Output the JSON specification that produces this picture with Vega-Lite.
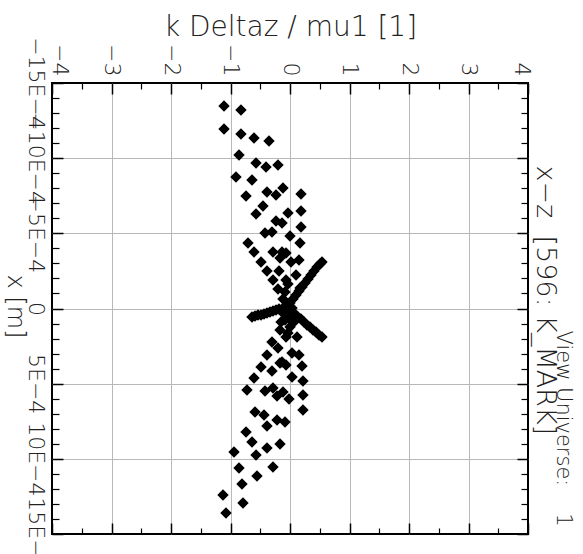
{
  "$schema": "https://vega.github.io/schema/vega-lite/v6.json",
  "width": 476,
  "height": 451,
  "autosize": {"type": "none"},
  "padding": {"left": 52, "top": 83, "right": 55, "bottom": 20},
  "background": "white",
  "config": {
    "view": {"stroke": "black", "strokeWidth": 2},
    "axis": {"labelFont": "DejaVu Sans", "titleFont": "DejaVu Sans", "labelColor": "#222", "titleColor": "#222", "labelFontWeight": 200, "titleFontWeight": 200}
  },
  "data": {"values": [
    {"kdz": -1.109, "x": -0.001347}, {"kdz": -0.824, "x": -0.001320}, {"kdz": -1.109, "x": -0.001194}, {"kdz": -0.824, "x": -0.001161},
    {"kdz": -0.605, "x": -0.001134}, {"kdz": -0.353, "x": -0.001114}, {"kdz": -0.857, "x": -0.001021}, {"kdz": -0.571, "x": -0.000968},
    {"kdz": -0.403, "x": -0.000941}, {"kdz": -0.202, "x": -0.000955}, {"kdz": -0.908, "x": -0.000875}, {"kdz": -0.639, "x": -0.000855},
    {"kdz": -0.387, "x": -0.000775}, {"kdz": -0.235, "x": -0.000755}, {"kdz": -0.118, "x": -0.000802}, {"kdz": 0.185, "x": -0.000762},
    {"kdz": -0.739, "x": -0.000748}, {"kdz": -0.454, "x": -0.000682}, {"kdz": -0.571, "x": -0.000629}, {"kdz": -0.034, "x": -0.000635},
    {"kdz": 0.185, "x": -0.000649}, {"kdz": -0.235, "x": -0.000582}, {"kdz": -0.134, "x": -0.000569}, {"kdz": 0.185, "x": -0.000542},
    {"kdz": -0.420, "x": -0.000502}, {"kdz": -0.303, "x": -0.000509}, {"kdz": 0.0, "x": -0.000482}, {"kdz": -0.706, "x": -0.000436},
    {"kdz": 0.168, "x": -0.000436}, {"kdz": -0.605, "x": -0.000376}, {"kdz": -0.286, "x": -0.000376}, {"kdz": -0.134, "x": -0.000376},
    {"kdz": -0.067, "x": -0.000369}, {"kdz": -0.168, "x": -0.000336}, {"kdz": -0.487, "x": -0.000309}, {"kdz": 0.017, "x": -0.000309},
    {"kdz": 0.151, "x": -0.000323}, {"kdz": -0.387, "x": -0.000249}, {"kdz": -0.185, "x": -0.000249}, {"kdz": 0.101, "x": -0.000223},
    {"kdz": -0.286, "x": -0.000190}, {"kdz": -0.067, "x": -0.000190}, {"kdz": -0.034, "x": -0.000163}, {"kdz": -0.202, "x": -0.000130},
    {"kdz": -0.084, "x": -0.000110}, {"kdz": 0.168, "x": -0.000136}, {"kdz": -0.118, "x": -0.000063}, {"kdz": -0.084, "x": 0.000076},
    {"kdz": 0.0, "x": 0.000123}, {"kdz": -0.168, "x": 0.000143}, {"kdz": -0.034, "x": 0.000163}, {"kdz": 0.118, "x": 0.000190},
    {"kdz": -0.067, "x": 0.000190}, {"kdz": -0.303, "x": 0.000223}, {"kdz": -0.202, "x": 0.000263}, {"kdz": 0.034, "x": 0.000296},
    {"kdz": -0.387, "x": 0.000309}, {"kdz": 0.151, "x": 0.000309}, {"kdz": -0.134, "x": 0.000356}, {"kdz": -0.487, "x": 0.000389},
    {"kdz": -0.303, "x": 0.000416}, {"kdz": -0.168, "x": 0.000363}, {"kdz": -0.067, "x": 0.000376}, {"kdz": 0.202, "x": 0.000382},
    {"kdz": -0.605, "x": 0.000462}, {"kdz": 0.034, "x": 0.000456}, {"kdz": 0.218, "x": 0.000482}, {"kdz": -0.723, "x": 0.000542},
    {"kdz": -0.420, "x": 0.000549}, {"kdz": -0.286, "x": 0.000529}, {"kdz": -0.218, "x": 0.000582}, {"kdz": -0.118, "x": 0.000555},
    {"kdz": -0.017, "x": 0.000602}, {"kdz": 0.218, "x": 0.000575}, {"kdz": 0.218, "x": 0.000675}, {"kdz": -0.588, "x": 0.000688},
    {"kdz": -0.437, "x": 0.000708}, {"kdz": -0.218, "x": 0.000742}, {"kdz": -0.084, "x": 0.000755}, {"kdz": -0.387, "x": 0.000782},
    {"kdz": -0.739, "x": 0.000822}, {"kdz": -0.639, "x": 0.000888}, {"kdz": -0.168, "x": 0.000901}, {"kdz": -0.387, "x": 0.000928},
    {"kdz": -0.571, "x": 0.000975}, {"kdz": -0.941, "x": 0.000955}, {"kdz": -0.857, "x": 0.001061}, {"kdz": -0.286, "x": 0.001054},
    {"kdz": -0.555, "x": 0.001114}, {"kdz": -0.807, "x": 0.001167}, {"kdz": -1.126, "x": 0.001241}, {"kdz": -0.790, "x": 0.001294},
    {"kdz": -1.076, "x": 0.001360},
    {"kdz": 0.0, "x": -0.000037}, {"kdz": 0.050, "x": -0.000063}, {"kdz": 0.101, "x": -0.000090}, {"kdz": 0.151, "x": -0.000116},
    {"kdz": 0.202, "x": -0.000143}, {"kdz": 0.252, "x": -0.000170}, {"kdz": 0.303, "x": -0.000196}, {"kdz": 0.353, "x": -0.000223},
    {"kdz": 0.403, "x": -0.000249}, {"kdz": 0.454, "x": -0.000276}, {"kdz": 0.504, "x": -0.000296}, {"kdz": 0.538, "x": -0.000309},
    {"kdz": -0.639, "x": 0.000057}, {"kdz": -0.588, "x": 0.000050}, {"kdz": -0.538, "x": 0.000043}, {"kdz": -0.487, "x": 0.000043},
    {"kdz": -0.437, "x": 0.000037}, {"kdz": -0.387, "x": 0.000030}, {"kdz": -0.336, "x": 0.000023}, {"kdz": -0.286, "x": 0.000017},
    {"kdz": -0.235, "x": 0.000010}, {"kdz": -0.185, "x": 0.000003}, {"kdz": -0.134, "x": 0.000003}, {"kdz": -0.084, "x": -0.000003},
    {"kdz": -0.034, "x": -0.000010},
    {"kdz": 0.034, "x": 0.000023}, {"kdz": 0.084, "x": 0.000037}, {"kdz": 0.134, "x": 0.000057}, {"kdz": 0.185, "x": 0.000070},
    {"kdz": 0.235, "x": 0.000090}, {"kdz": 0.286, "x": 0.000110}, {"kdz": 0.336, "x": 0.000123}, {"kdz": 0.387, "x": 0.000143},
    {"kdz": 0.437, "x": 0.000156}, {"kdz": 0.487, "x": 0.000176}, {"kdz": 0.538, "x": 0.000190},
    {"kdz": -0.050, "x": -0.000023}, {"kdz": 0.034, "x": -0.000003}, {"kdz": -0.101, "x": 0.000037}, {"kdz": -0.017, "x": 0.000063},
    {"kdz": 0.067, "x": 0.000090}, {"kdz": -0.151, "x": 0.000090}
  ]},
  "resolve": {"axis": {"x": "independent", "y": "independent"}},
  "layer": [
    {
      "mark": {"type": "point", "shape": "diamond", "filled": true, "color": "black", "size": 130, "opacity": 1},
      "encoding": {
        "x": {"field": "kdz", "type": "quantitative",
          "scale": {"domain": [-4, 4], "nice": false, "zero": false},
          "axis": {"orient": "top", "values": [-4, -3, -2, -1, 0, 1, 2, 3, 4], "ticks": false, "domain": false,
            "grid": true, "gridColor": "#b8b8b8", "gridWidth": 1,
            "gridOpacity": {"condition": {"test": "abs(datum.value) > 3.5", "value": 0}, "value": 1},
            "labelAngle": 90, "labelAlign": "right", "labelBaseline": "middle", "labelPadding": 7, "labelFontSize": 22,
            "labelOverlap": false, "labelFlush": false, "labelBound": false,
            "labelOffset": {"condition": [{"test": "datum.value == -4", "value": 7}, {"test": "datum.value == 4", "value": -7}], "value": 0},
            "labelExpr": "datum.value < 0 ? '\u2212' + abs(datum.value) : '' + datum.value",
            "title": "k Deltaz / mu1 [1]", "titleFontSize": 28, "titleX": 238, "titleY": -48, "titleAlign": "center", "titleBaseline": "alphabetic", "titleAngle": 0}},
        "y": {"field": "x", "type": "quantitative",
          "scale": {"domain": [-0.0015, 0.0015], "nice": false, "zero": false, "reverse": true},
          "axis": {"orient": "left", "values": [-0.0015, -0.001, -0.0005, 0, 0.0005, 0.001, 0.0015], "ticks": false, "domain": false,
            "grid": true, "gridColor": "#b8b8b8", "gridWidth": 1,
            "gridOpacity": {"condition": {"test": "abs(datum.value) > 0.00125", "value": 0}, "value": 1},
            "labelAngle": 90, "labelAlign": "center", "labelBaseline": "alphabetic", "labelPadding": 24, "labelFontSize": 22,
            "labelOverlap": false, "labelFlush": false, "labelBound": false,
            "labelExpr": "datum.value == 0 ? '0' : (datum.value < 0 ? '\u2212' : '') + round(abs(datum.value) * 10000) + 'E\u22124'",
            "title": "x [m]", "titleFontSize": 24, "titleAngle": 90, "titleX": -45, "titleY": 223, "titleAlign": "center", "titleBaseline": "alphabetic"}}
      }
    },
    {
      "mark": {"type": "point", "opacity": 0},
      "encoding": {
        "x": {"field": "kdz", "type": "quantitative", "scale": {"domain": [-4, 4], "nice": false, "zero": false},
          "axis": {"orient": "top", "values": [-4, -3, -2, -1, 0, 1, 2, 3, 4], "labels": false, "domain": false, "grid": false,
            "ticks": true, "tickSize": -11, "tickColor": "black", "tickWidth": 1.5, "title": null}},
        "y": {"field": "x", "type": "quantitative", "scale": {"domain": [-0.0015, 0.0015], "nice": false, "zero": false, "reverse": true},
          "axis": {"orient": "left", "values": [-0.0015, -0.001, -0.0005, 0, 0.0005, 0.001, 0.0015], "labels": false, "domain": false, "grid": false,
            "ticks": true, "tickSize": -11, "tickColor": "black", "tickWidth": 1.5, "title": null}}
      }
    },
    {
      "mark": {"type": "point", "opacity": 0},
      "encoding": {
        "x": {"field": "kdz", "type": "quantitative", "scale": {"domain": [-4, 4], "nice": false, "zero": false},
          "axis": {"orient": "top", "values": [-3.5, -2.5, -1.5, -0.5, 0.5, 1.5, 2.5, 3.5], "labels": false, "domain": false, "grid": false,
            "ticks": true, "tickSize": -6, "tickColor": "black", "tickWidth": 1.2, "title": null}},
        "y": {"field": "x", "type": "quantitative", "scale": {"domain": [-0.0015, 0.0015], "nice": false, "zero": false, "reverse": true},
          "axis": {"orient": "left", "values": [-0.0014, -0.0013, -0.0012, -0.0011, -0.0009, -0.0008, -0.0007, -0.0006, -0.0004, -0.0003, -0.0002, -0.0001, 0.0001, 0.0002, 0.0003, 0.0004, 0.0006, 0.0007, 0.0008, 0.0009, 0.0011, 0.0012, 0.0013, 0.0014],
            "labels": false, "domain": false, "grid": false,
            "ticks": true, "tickSize": -7, "tickColor": "black", "tickWidth": 1.2, "title": null}}
      }
    },
    {
      "mark": {"type": "point", "opacity": 0},
      "encoding": {
        "x": {"field": "kdz", "type": "quantitative", "scale": {"domain": [-4, 4], "nice": false, "zero": false},
          "axis": {"orient": "bottom", "values": [-4, -3, -2, -1, 0, 1, 2, 3, 4], "labels": false, "domain": false, "grid": false,
            "ticks": true, "tickSize": -11, "tickColor": "black", "tickWidth": 1.5, "title": null}},
        "y": {"field": "x", "type": "quantitative", "scale": {"domain": [-0.0015, 0.0015], "nice": false, "zero": false, "reverse": true},
          "axis": {"orient": "right", "values": [-0.0015, -0.001, -0.0005, 0, 0.0005, 0.001, 0.0015], "labels": false, "domain": false, "grid": false,
            "ticks": true, "tickSize": -11, "tickColor": "black", "tickWidth": 1.5,
            "title": "x\u2212z\u00a0\u00a0[596: K_MARK]", "titleFontSize": 27, "titleAngle": 90, "titleX": 8, "titleY": 82, "titleAlign": "left", "titleBaseline": "alphabetic"}}
      }
    },
    {
      "mark": {"type": "point", "opacity": 0},
      "encoding": {
        "x": {"field": "kdz", "type": "quantitative", "scale": {"domain": [-4, 4], "nice": false, "zero": false},
          "axis": {"orient": "bottom", "values": [-3.5, -2.5, -1.5, -0.5, 0.5, 1.5, 2.5, 3.5], "labels": false, "domain": false, "grid": false,
            "ticks": true, "tickSize": -6, "tickColor": "black", "tickWidth": 1.2, "title": null}},
        "y": {"field": "x", "type": "quantitative", "scale": {"domain": [-0.0015, 0.0015], "nice": false, "zero": false, "reverse": true},
          "axis": {"orient": "right", "values": [-0.0014, -0.0013, -0.0012, -0.0011, -0.0009, -0.0008, -0.0007, -0.0006, -0.0004, -0.0003, -0.0002, -0.0001, 0.0001, 0.0002, 0.0003, 0.0004, 0.0006, 0.0007, 0.0008, 0.0009, 0.0011, 0.0012, 0.0013, 0.0014],
            "labels": false, "domain": false, "grid": false,
            "ticks": true, "tickSize": -7, "tickColor": "black", "tickWidth": 1.2,
            "title": "View Universe:\u00a0\u00a0\u00a0\u00a01", "titleFontSize": 21, "titleAngle": 90, "titleX": 28, "titleY": 247, "titleAlign": "left", "titleBaseline": "alphabetic"}}
      }
    }
  ]
}
